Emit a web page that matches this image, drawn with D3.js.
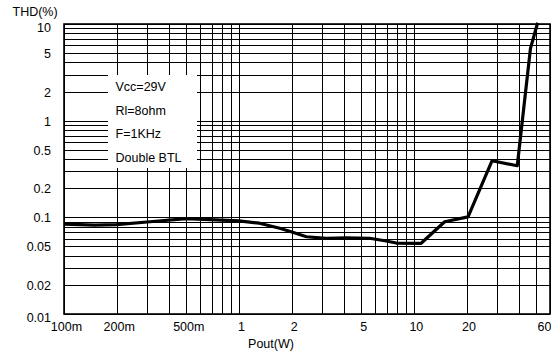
<!DOCTYPE html>
<html><head><meta charset="utf-8">
<script src="https://cdn.jsdelivr.net/npm/d3@7"></script>
<style>body{margin:0;background:#fff}svg{display:block}text{font-family:"Liberation Sans",Arial,sans-serif;font-size:12.5px;fill:#000}</style>
</head><body>
<svg id="c" width="551" height="354"></svg>
<script>
const pout = [0.1, 0.15, 0.2, 0.31, 0.5, 1.0, 1.31, 1.71, 2.03, 2.43, 3.16, 4.11, 5.58, 6.95, 7.93, 11, 15, 20.4, 28, 39, 46.4, 51];
const thd  = [0.085, 0.083, 0.084, 0.09, 0.097, 0.092, 0.087, 0.077, 0.070, 0.063, 0.0607, 0.0615, 0.0607, 0.0569, 0.0542, 0.0539, 0.09, 0.101, 0.385, 0.342, 5.6, 10.3];
const xTickVals = [0.1, 0.2, 0.5, 1, 2, 5, 10, 20, 60];
const xTickLabels = ["100m", "200m", "500m", "1", "2", "5", "10", "20", "60"];
const yTickVals = [10, 5, 2, 1, 0.5, 0.2, 0.1, 0.05, 0.02, 0.01];
const yTickLabels = ["10", "5", "2", "1", "0.5", "0.2", "0.1", "0.05", "0.02", "0.01"];
const legendLines = ["Vcc=29V", "Rl=8ohm", "F=1KHz", "Double BTL"];
const xTitle = "Pout(W)", yTitle = "THD(%)";

const svg = d3.select("#c");
const L = 64, R = 550, T = 24, B = 314;
const x = d3.scaleLog().domain([0.1, 60]).range([L, R]);
const y = d3.scaleLog().domain([0.01, 10]).range([B, T]);

// grid values
const xGrid = [], yGrid = [];
[0.1, 1, 10].forEach(d => { for (let k = 1; k <= 9; k++) { const v = d * k; if (v <= 60) xGrid.push(v); } });
xGrid.push(60);
[0.01, 0.1, 1].forEach(d => { for (let k = 1; k <= 9; k++) yGrid.push(d * k); });
yGrid.push(10);

const g = svg.append("g");
g.selectAll("line.vx").data(xGrid).enter().append("line")
  .attr("x1", d => Math.round(x(d)) + 0.5).attr("x2", d => Math.round(x(d)) + 0.5)
  .attr("y1", T).attr("y2", B).attr("stroke", "#000").attr("stroke-width", 1);
g.selectAll("line.hy").data(yGrid).enter().append("line")
  .attr("y1", d => Math.round(y(d)) + 0.5).attr("y2", d => Math.round(y(d)) + 0.5)
  .attr("x1", L).attr("x2", R).attr("stroke", "#000").attr("stroke-width", 1);

// frame
svg.append("rect").attr("x", L).attr("y", T).attr("width", R - L).attr("height", B - T)
  .attr("fill", "none").attr("stroke", "#000").attr("stroke-width", 1.6);

// legend box (white, no border)
svg.append("rect").attr("x", 108).attr("y", 75).attr("width", 89).attr("height", 93).attr("fill", "#fff");
svg.selectAll("text.leg").data(legendLines).enter().append("text")
  .attr("x", 115.5).attr("y", (d, i) => 91 + i * 23.6).text(d => d);

// curve
const line = d3.line().x(d => x(d[0])).y(d => y(d[1]));
svg.append("path").datum(pout.map((p, i) => [p, thd[i]]))
  .attr("d", line).attr("fill", "none").attr("stroke", "#000").attr("stroke-width", 3.2)
  .attr("stroke-linejoin", "round");

// axes labels
const xAxis = d3.axisBottom(x).tickValues(xTickVals).tickFormat((d, i) => xTickLabels[i]).tickSize(0).tickPadding(0);
const xa = svg.append("g").attr("transform", `translate(0,${B})`).call(xAxis);
xa.select(".domain").remove();
xa.selectAll("text").attr("y", 17).attr("dy", null).attr("dx", 2).style("font-size", "12.5px")
  .style("font-family", '"Liberation Sans",Arial,sans-serif');
xa.selectAll(".tick").filter(d => d === 60).select("text").attr("text-anchor", "end").attr("dx", 1);

const yAxis = d3.axisLeft(y).tickValues(yTickVals).tickFormat((d, i) => yTickLabels[i]).tickSize(0).tickPadding(0);
const ya = svg.append("g").attr("transform", `translate(51,0)`).call(yAxis);
ya.select(".domain").remove();
ya.selectAll("text").attr("x", 0).attr("dy", "0.36em").style("font-size", "12.5px")
  .style("font-family", '"Liberation Sans",Arial,sans-serif');
ya.selectAll(".tick").filter(d => d === 10 || d === 0.01).select("text").attr("y", 2.6);

svg.append("text").attr("x", 12.5).attr("y", 15.5).text(yTitle);
svg.append("text").attr("x", 271).attr("y", 347.5).attr("text-anchor", "middle").text(xTitle);
</script>
</body></html>
